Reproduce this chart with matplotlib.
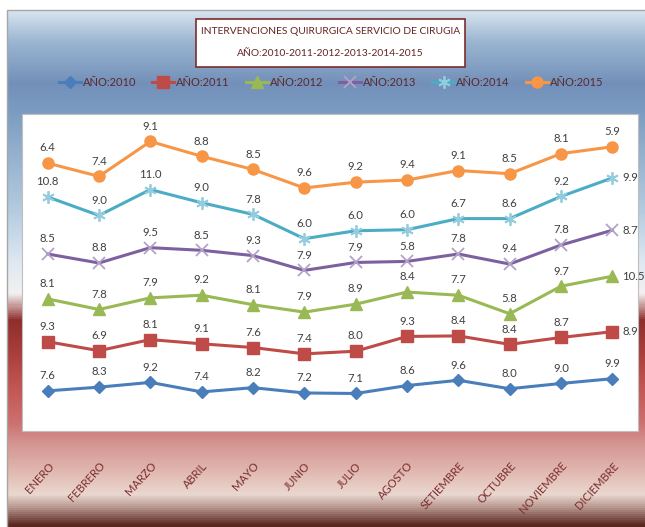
import matplotlib.pyplot as plt
import numpy as np
from matplotlib.colors import LinearSegmentedColormap
from matplotlib.patches import Rectangle

# DATOS (grafico de lineas apiladas, las etiquetas muestran el valor de cada año)
meses = ['ENERO', 'FEBRERO', 'MARZO', 'ABRIL', 'MAYO', 'JUNIO', 'JULIO',
         'AGOSTO', 'SETIEMBRE', 'OCTUBRE', 'NOVIEMBRE', 'DICIEMBRE']
anios = ['AÑO:2010', 'AÑO:2011', 'AÑO:2012', 'AÑO:2013', 'AÑO:2014', 'AÑO:2015']
v2010 = [7.6, 8.3, 9.2, 7.4, 8.2, 7.2, 7.1, 8.6, 9.6, 8.0, 9.0, 9.9]
v2011 = [9.3, 6.9, 8.1, 9.1, 7.6, 7.4, 8.0, 9.3, 8.4, 8.4, 8.7, 8.9]
v2012 = [8.1, 7.8, 7.9, 9.2, 8.1, 7.9, 8.9, 8.4, 7.7, 5.8, 9.7, 10.5]
v2013 = [8.5, 8.8, 9.5, 8.5, 9.3, 7.9, 7.9, 5.8, 7.8, 9.4, 7.8, 8.7]
v2014 = [10.8, 9.0, 11.0, 9.0, 7.8, 6.0, 6.0, 6.0, 6.7, 8.6, 9.2, 9.9]
v2015 = [6.4, 7.4, 9.1, 8.8, 8.5, 9.6, 9.2, 9.4, 9.1, 8.5, 8.1, 5.9]

valores = np.array([v2010, v2011, v2012, v2013, v2014, v2015])
acumulado = np.cumsum(valores, axis=0)

# estilos de cada serie: color linea, marcador, color marcador, tamaño
estilos = [
    ('#4a7ebb', 'D', '#4a7ebb', 6),
    ('#be4b48', 's', '#be4b48', 8),
    ('#98b954', '^', '#98b954', 8),
    ('#7d60a0', 'x', '#b3a2c7', 8),
    ('#4bacc6', (6, 2, 0), '#93cddd', 9),
    ('#f79646', 'o', '#f79646', 8),
]

fuente = ['Lato', 'DejaVu Sans']

fig = plt.figure(figsize=(6.45, 5.27), dpi=100)

# FONDO DEGRADADO DEL AREA DEL GRAFICO
bg = fig.add_axes([0, 0, 1, 1])
bg.set_xlim(0, 645)
bg.set_ylim(527, 0)
bg.axis('off')
paradas = [(0.0, '#d5e3ee'), (0.06, '#9ab5d0'), (0.14, '#7390ba'), (0.19, '#7a9bc0'),
           (0.39, '#b5cce0'), (0.49, '#dfe9f2'), (0.55, '#f4f0f0'), (0.60, '#8e2f2c'),
           (0.66, '#a83c3a'), (0.73, '#c25652'), (0.80, '#cc7070'), (0.84, '#d49490'),
           (0.90, '#e2bcb4'), (0.94, '#ead8d0'), (0.965, '#b89890'), (1.0, '#5a2820')]
cmap = LinearSegmentedColormap.from_list('fondo', paradas)
grad = np.linspace(0, 1, 520).reshape(-1, 1)
bg.imshow(grad, cmap=cmap, extent=(7, 645, 527, 10), aspect='auto')
bg.plot([7, 7, 645], [527, 10, 10], color='#a6a6a6', linewidth=1)

# TITULO
bg.add_patch(Rectangle((196, 19), 269, 48, facecolor='white', edgecolor='#7b2c2c', linewidth=1.2))
bg.text(330.5, 32, 'INTERVENCIONES QUIRURGICA SERVICIO DE CIRUGIA', ha='center', va='center',
        fontsize=7.4, color='#632523', family=fuente)
bg.text(330.5, 53, 'AÑO:2010-2011-2012-2013-2014-2015', ha='center', va='center',
        fontsize=7.4, color='#632523', family=fuente)

# AREA DE TRAZADO
ax = fig.add_axes([22 / 645, 1 - 431 / 527, 616 / 645, 317 / 527])
ax.set_facecolor('white')
ax.set_xlim(-0.5, 11.5)
ax.set_ylim(0, 60)
x = np.arange(len(meses))

lineas = []
for i, (col, mk, mcol, ms) in enumerate(estilos):
    ln, = ax.plot(x, acumulado[i], color=col, linewidth=2.2, marker=mk, markersize=ms,
                  markerfacecolor=mcol, markeredgecolor=mcol, markeredgewidth=1.3 if mk in ('x', (6, 2, 0)) else 1,
                  label=anios[i], zorder=3 + i)
    lineas.append(ln)
    for j in range(len(meses)):
        if j == len(meses) - 1 and 1 <= i <= 4:
            ax.annotate('%.1f' % valores[i][j], (x[j], acumulado[i][j]), xytext=(7, 0),
                        textcoords='offset points', ha='left', va='center', fontsize=8.2,
                        color='#404040', family=fuente, annotation_clip=False, zorder=20)
        else:
            ax.annotate('%.1f' % valores[i][j], (x[j], acumulado[i][j]), xytext=(0, 7),
                        textcoords='offset points', ha='center', va='bottom', fontsize=8.2,
                        color='#404040', family=fuente, annotation_clip=False, zorder=20)

ax.set_yticks([])
ax.set_xticks(x)
ax.set_xticklabels(meses, rotation=48, ha='right', rotation_mode='anchor', fontsize=8,
                   color='#7b2c2c', family=fuente)
ax.tick_params(axis='x', length=0, pad=21)
for s in ax.spines.values():
    s.set_color('#bfbfbf')
    s.set_linewidth(0.8)

# LEYENDA
fig.legend(handles=lineas, labels=anios, loc='center', bbox_to_anchor=(331 / 645, 1 - 82 / 527),
           ncol=6, frameon=False, handlelength=2.0, columnspacing=1.45, handletextpad=0.15,
           numpoints=1, prop={'family': fuente, 'size': 8}, labelcolor='#5a2a2a')

plt.savefig('out.png', dpi=100)
